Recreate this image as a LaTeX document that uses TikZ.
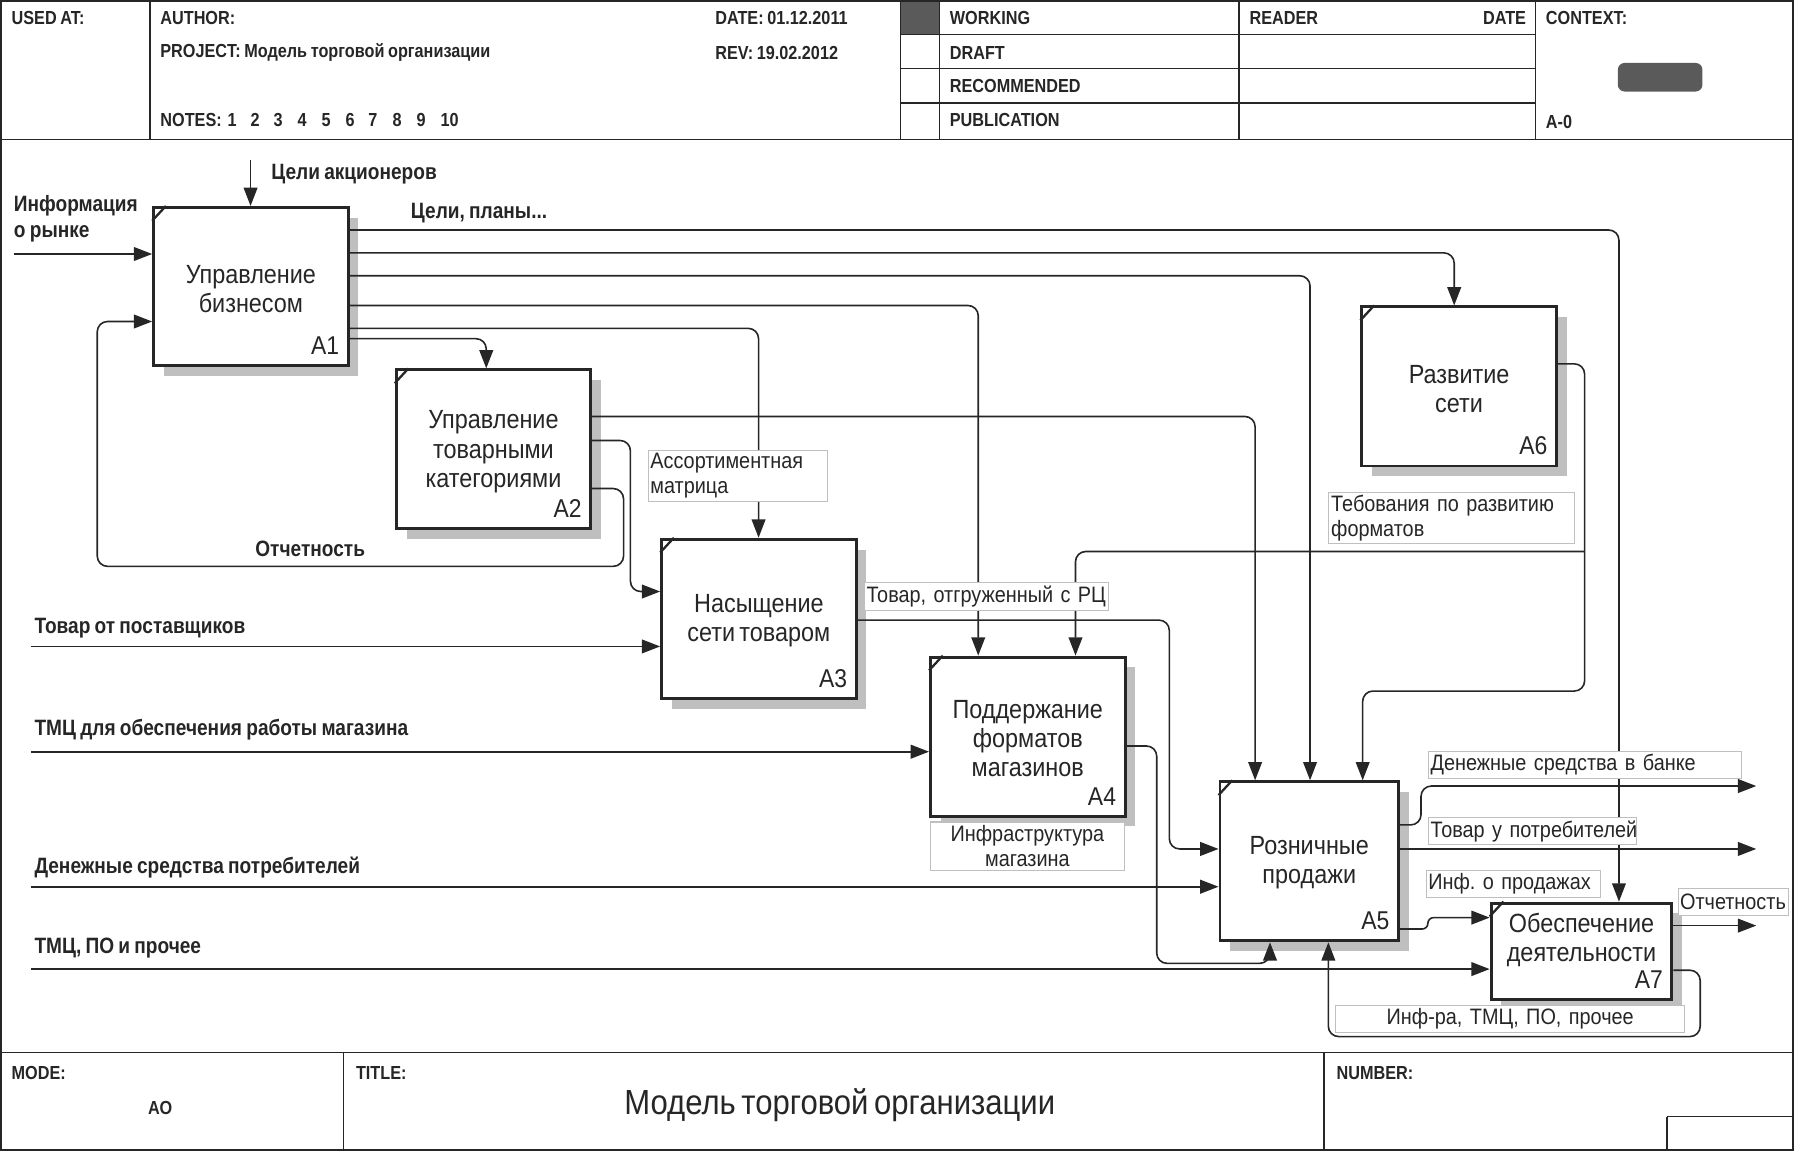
\documentclass[tikz,border=0pt]{standalone}
\usepackage{fontspec}
\setmainfont{Liberation Sans}[FakeStretch=0.89, WordSpace=0.65]
\newfontfamily\hf{Liberation Sans}[FakeStretch=0.86, WordSpace=0.8]
\frenchspacing
\usetikzlibrary{arrows.meta,shadows}
\definecolor{ink}{HTML}{262626}
\definecolor{dk}{HTML}{5A5A5A}
\tikzset{
 frame/.style={draw=ink, line width=1.3pt},
 abox/.style={draw=ink, line width=2.6pt, fill=white, inner sep=0pt, anchor=north west,
   drop shadow={shadow xshift=9pt, shadow yshift=-9pt, fill=black!25, opacity=1, draw=none}},
 blabel/.style={font=\fontsize{23}{25.5}\selectfont, align=center, text=ink, inner sep=0pt},
 idlab/.style={font=\fontsize{22.5}{24}\selectfont, anchor=base east, inner sep=0pt, text=ink},
 conn/.style={draw=ink, line width=1.4pt, rounded corners=9pt},
 arr/.style={conn, -{Triangle[length=16pt,width=12pt]}},
 lbox/.style={draw=black!25, line width=0.9pt, fill=white, inner sep=2pt, anchor=north west,
   font=\fontsize{19.5}{22}\selectfont, align=left, text=ink},
 inlab/.style={font=\hf\bfseries\fontsize{19.4}{22}\selectfont, anchor=west, inner sep=0pt, text=ink},
 hdr/.style={font=\hf\bfseries\fontsize{16.5}{19}\selectfont, anchor=west, inner sep=0pt, text=ink},
 tick/.style={draw=ink, line width=2pt},
}
\begin{document}
\begin{tikzpicture}[x=1pt,y=-1pt]
\useasboundingbox (0,0) rectangle (1568,1006);
% ---------- frame ----------
\draw[frame] (1,1) rectangle (1567,1005);
\draw[frame] (1,122) -- (1567,122);
\draw[frame] (1,920) -- (1567,920);
\foreach \x in {131,787,821,1083,1342} \draw[frame] (\x,1) -- (\x,122);
\foreach \y in {30,60,90} \draw[frame] (787,\y) -- (1342,\y);
\fill[dk] (787.7,1.7) rectangle (820.3,29.3);
\fill[dk, rounded corners=6pt] (1414,55) rectangle (1488,80);
\draw[frame] (300,920) -- (300,1005);
\draw[frame] (1157,920) -- (1157,1005);
\draw[frame] (1457,976) -- (1567,976);
\draw[frame] (1457,976) -- (1457,1005);
% ---------- header texts ----------
\node[hdr] (usedat) at (10,16) {USED AT:};
\node[hdr] (author) at (140,16) {AUTHOR:};
\node[hdr] (project) at (140,46) {PROJECT: Модель торговой организации};
\node[hdr] (notes) at (140,105) {NOTES:};
\foreach \n/\x in {1/203,2/223,3/243,4/264,5/285,6/306,7/326,8/347,9/368,10/393}
  \node[hdr, anchor=center] (note\n) at (\x,105) {\n};
\node[hdr] (date) at (625,16) {DATE: 01.12.2011};
\node[hdr] (rev) at (625,46) {REV: 19.02.2012};
\node[hdr] (working) at (830,16) {WORKING};
\node[hdr] (draft) at (830,46) {DRAFT};
\node[hdr] (recom) at (830,75) {RECOMMENDED};
\node[hdr] (publ) at (830,105) {PUBLICATION};
\node[hdr] (reader) at (1092,16) {READER};
\node[hdr, anchor=east] (rdate) at (1334,16) {DATE};
\node[hdr] (context) at (1351,16) {CONTEXT:};
\node[hdr] (azero) at (1351,107) {A-0};
% ---------- footer texts ----------
\node[hdr] (mode) at (10,938) {MODE:};
\node[hdr, anchor=center] (modeval) at (140,968) {AO};
\node[hdr] (title) at (311,938) {TITLE:};
\node[hdr] (number) at (1168,938) {NUMBER:};
\node[font=\fontsize{30.5}{33}\selectfont, text=ink, inner sep=0pt] (titleval) at (734,966) {Модель торговой организации};
% ---------- activity boxes ----------
\node[abox, minimum width=170pt, minimum height=138pt] (A1) at (133,180) {};
\node[abox, minimum width=170pt, minimum height=139pt] (A2) at (345,322) {};
\node[abox, minimum width=170pt, minimum height=139pt] (A3) at (577,470) {};
\node[abox, minimum width=170pt, minimum height=139pt] (A4) at (812,573) {};
\node[abox, minimum width=156pt, minimum height=139pt] (A5) at (1065,682) {};
\node[abox, minimum width=170pt, minimum height=139pt] (A6) at (1189,267) {};
\node[abox, minimum width=158pt, minimum height=84pt] (A7) at (1302,788) {};
\foreach \b in {A1,A2,A3,A4,A5,A6,A7}{
  \draw[tick] ([yshift=-13pt]\b.north west) -- ([xshift=12pt]\b.north west);
  \node[idlab] (\b id) at ([shift={(-9pt,11pt)}]\b.south east) {\b};
}
\node[blabel] (A1t) at ([yshift=-2pt]A1.center) {Управление\\бизнесом};
\node[blabel] (A2t) at ([yshift=-2pt]A2.center) {Управление\\товарными\\категориями};
\node[blabel] (A3t) at ([yshift=-2pt]A3.center) {Насыщение\\сети товаром};
\node[blabel] (A4t) at ([yshift=-2pt]A4.center) {Поддержание\\форматов\\магазинов};
\node[blabel] (A5t) at ([yshift=-1pt]A5.center) {Розничные\\продажи};
\node[blabel] (A6t) at ([yshift=-2pt]A6.center) {Развитие\\сети};
\node[blabel] (A7t) at ([yshift=10pt]A7.center) {Обеспечение\\деятельности};
% ---------- external inputs / controls ----------
\coordinate (ca) at (219,140);
\draw[arr] (ca) -- (ca |- A1.north);
\node[inlab] (tca) at (237,152) {Цели акционеров};
\coordinate (im) at (12,222);
\draw[arr] (im) -- (im -| A1.west);
\node[inlab, anchor=north west, align=left] (tim) at (12,171) {Информация\\о рынке};
\coordinate (s1) at (27,565);
\draw[arr] (s1) -- (s1 -| A3.west);
\node[inlab] (ts1) at (30,549) {Товар от поставщиков};
\coordinate (s2) at (27,657);
\draw[arr] (s2) -- (s2 -| A4.west);
\node[inlab] (ts2) at (30,638) {ТМЦ для обеспечения работы магазина};
\coordinate (s3) at (27,775);
\draw[arr] (s3) -- (s3 -| A5.west);
\node[inlab] (ts3) at (30,758) {Денежные средства потребителей};
\coordinate (s4) at (27,847);
\draw[arr] (s4) -- (s4 -| A7.west);
\node[inlab] (ts4) at (30,829) {ТМЦ, ПО и прочее};
% ---------- A1 outputs ----------
\draw[arr] (A1.east |- 0,201) -| (A7.north -| 1415,0);
\draw[arr] (A1.east |- 0,221) -| (A6.north -| 1271,0);
\draw[arr] (A1.east |- 0,241) -| (A5.north -| 1145,0);
\draw[arr] (A1.east |- 0,267) -| (A4.north -| 855,0);
\draw[arr] (A1.east |- 0,287) -| (A3.north -| 663,0);
\draw[arr] (A1.east |- 0,296) -| (A2.north -| 425,0);
\node[inlab] (tcp) at (359,186) {Цели, планы...};
% ---------- feedback Отчетность ----------
\draw[arr] (A2.east |- 0,427) -| (545,495) -| (85,281) -- (A1.west |- 0,281);
\node[inlab] (totch) at (223,480) {Отчетность};
% ---------- A2 outputs ----------
\draw[arr] (A2.east |- 0,385) -| (551,517) -- (A3.west |- 0,517);
\draw[arr] (A2.east |- 0,364) -| (A5.north -| 1097,0);
% ---------- A3 output ----------
\draw[arr] (A3.east |- 0,542) -| (1022,742) -- (A5.west |- 0,742);
% ---------- A6 outputs ----------
\draw[arr] (A6.east |- 0,318) -| (1385,604) -| (A5.north -| 1191,0);
\coordinate (br6) at (1385,482);
\draw[arr] (br6) -| (A4.north -| 940,0);
% ---------- A4 output ----------
\draw[arr] (A4.east |- 0,652) -| (1011,842) -| (A5.south -| 1110,0);
% ---------- A7 output to A5 ----------
\draw[arr] (A7.east |- 0,848) -| (1486,906) -| (A5.south -| 1161,0);
% ---------- A5 outputs ----------
\coordinate (o1) at (1535,687);
\coordinate (o2) at (1535,742);
\coordinate (o3) at (1535,809);
\draw[arr] (A5.east |- 0,721) -| (1242,687) -- (o1);
\draw[arr] (A5.east |- 0,742) -- (o2);
\draw[arr, rounded corners=5pt] (A5.east |- 0,812) -| (1248,802) -- (A7.west |- 0,802);
\draw[arr] (A7.east |- 0,809) -- (o3);
% ---------- arrow label boxes ----------
\node[lbox, text width=153pt, minimum height=45pt] (l1) at (566,393) {Ассортиментная\\матрица};
\node[lbox, text width=209pt, minimum height=24pt] (l2) at (755,509) {\mbox{Товар, отгруженный с РЦ}};
\node[lbox, text width=211pt, minimum height=43pt] (l3) at (1161,430) {Тебования по развитию\\форматов};
\node[lbox, text width=165pt, minimum height=42pt, align=center] (l4) at (813,718) {Инфраструктура\\магазина};
\node[lbox, text width=270pt, minimum height=24pt] (l5) at (1248,656) {\mbox{Денежные средства в банке}};
\node[lbox, text width=178pt, minimum height=24pt] (l6) at (1248,714) {\mbox{Товар у потребителей}};
\node[lbox, text width=148pt, minimum height=24pt] (l7) at (1246,760) {\mbox{Инф. о продажах}};
\node[lbox, text width=94pt, minimum height=24pt, inner xsep=1pt] (l8) at (1467,776) {\mbox{Отчетность}};
\node[lbox, text width=301pt, minimum height=24pt, align=center] (l9) at (1167,878) {Инф-ра, ТМЦ, ПО, прочее};
\end{tikzpicture}
\end{document}
